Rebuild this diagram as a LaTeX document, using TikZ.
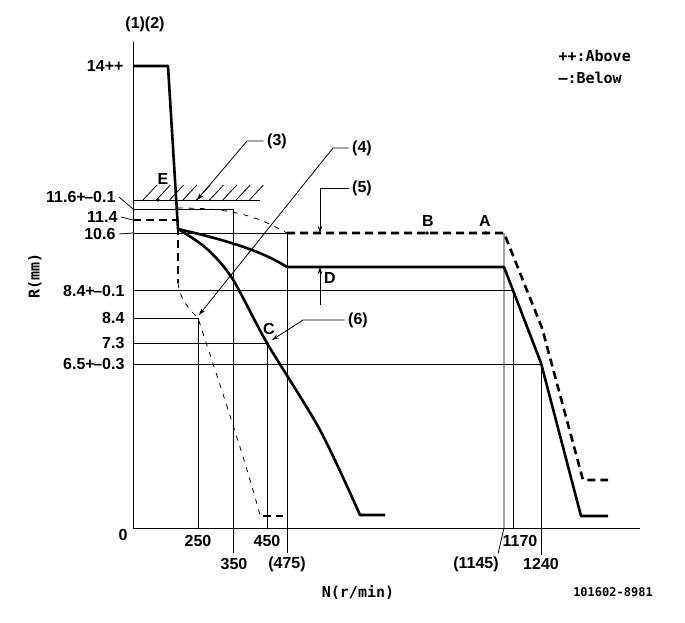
\documentclass[tikz,border=0pt]{standalone}
\usepackage{fontspec}
\setmainfont{Liberation Sans}
\newfontfamily\monofont{DejaVu Sans Mono}
\usetikzlibrary{arrows.meta}
\begin{document}
\begin{tikzpicture}[x=1pt,y=-1pt,line join=round,>={Stealth[length=7pt,width=4.5pt]},
    font=\bfseries\fontsize{16}{16}\selectfont]
	\tikzset{thinline/.style={line width=0.8pt},
		curve/.style={line width=2.6pt},
		curvedash/.style={line width=2.6pt,dash pattern=on 8pt off 5pt},
		thindash/.style={line width=0.8pt,dash pattern=on 5pt off 6pt},
		pt/.style={circle,fill,inner sep=1.4pt},
		title/.style={font=\monofont\bfseries\fontsize{15}{15}\selectfont}}
	\useasboundingbox (0,0) rectangle (685,623);
	% axes
	\coordinate (o) at (133,528);
	\draw[thinline] (133,42) -- (o) -- (640,528);
	\node (t12) at (145,24) {(1)(2)};
	\node[title,rotate=90] (tR) at (35,276) {R(mm)};
	\node[title] (tN) at (358,592) {N(r/min)};
	\node[font=\monofont\bfseries\fontsize{12}{12}\selectfont] (code) at (613,592) {101602-8981};
	\node[title,anchor=west] (lgA) at (555,56) {++:Above};
	\node[title,anchor=west] (lgB) at (555,78) {—:Below};
	% y labels
	\node[anchor=east] (y14) at (127,66) {14++};
	\node[anchor=east] (y116) at (119,197) {11.6+\kern-1.5pt--0.1};
	\node[anchor=east] (y114) at (121,217) {11.4};
	\node[anchor=east] (y106) at (119,234) {10.6};
	\node[anchor=east] (y84t) at (128,291) {8.4+\kern-1.5pt--0.1};
	\node[anchor=east] (y84) at (128,318) {8.4};
	\node[anchor=east] (y73) at (128,343) {7.3};
	\node[anchor=east] (y65) at (128,364) {6.5+\kern-1.5pt--0.3};
	\node (y0) at (123,535) {0};
	\coordinate (a116) at (133,209);
	\coordinate (a114) at (133,220);
	\coordinate (a106) at (133,233);
	\draw[thinline] (y116.east) -- (a116);
	\draw[thinline] (y114.east) -- (a114);
	\draw[thinline] (y106.east) -- (a106);
	% x labels
	\node (x250) at (198,541) {250};
	\node (x350) at (234,564) {350};
	\node (x450) at (267,541) {450};
	\node (x475) at (287,564) {(475)};
	\node (x1145) at (476,564) {(1145)};
	\node (x1170) at (520,541) {1170};
	\node (x1240) at (541,564) {1240};
	% guide lines
	\draw[thinline] (133,200) -- (260,200);
	\foreach \i in {0,...,8}
	\draw[thinline] (143+13.3*\i,200) -- ++(14,-15);
	\draw[thinline] (a116) -- (233,209) -- (233,553);
	\draw[thinline] (a106) -- (287,233) -- (287,553);
	\draw[thinline] (133,290) -- (513,290) -- (513,528);
	\draw[thinline] (133,318) -- (198,318) -- (198,528);
	\draw[thinline] (133,343) -- (267,343) -- (267,528);
	\draw[thinline] (133,364) -- (541,364) -- (541,555);
	\draw[thinline] (504,233) -- (504,528) -- ([xshift=-4pt]x1145.north east);
	% characteristic lines
	\draw[curve] (133,66) -- (168,66) -- (178,229) .. controls (225,240) and (260,250) .. (287,267)
		-- (504,267) -- (541,363) -- (581,516) -- (608,516);
	\draw[curve] plot[smooth] coordinates {(178,229) (206,248) (232,278) (267,343) (320,430) (360,515)}
		-- (385,515);
	\draw[curvedash] (a114) -- (178,220) -- (178,283);
	\draw[thindash] (178,283) .. controls (180,300) and (190,310) .. (198,318)
		.. controls (225,400) and (245,460) .. (260,515);
	\draw[curvedash] (263,516) -- (283,516);
	\draw[thindash] (178,208) .. controls (230,208) and (255,215) .. (287,233);
	\draw[curvedash] (287,233) -- (504,233) -- (542,328) -- (583,480) -- (608,480);
	% points
	\node[pt] (pE) at (158,200) {};
	\node (nE) at (163,179) {E};
	\node[pt] (pB) at (427,233) {};
	\node (nB) at (428,221) {B};
	\node[pt] (pA) at (486,233) {};
	\node (nA) at (485,221) {A};
	\node[pt] (pC) at (267,343) {};
	\node (nC) at (269,329) {C};
	\coordinate (p3) at (197,200);
	\coordinate (p4) at (199,315);
	\coordinate (p5) at (320,233);
	\coordinate (pD) at (320,267);
	\coordinate (qD) at (320,305);
	\coordinate (p6) at (272,340);
	\node (n3) at (277,141) {(3)};
	\node (n4) at (362,148) {(4)};
	\node (n5) at (362,188) {(5)};
	\node (n6) at (358,320) {(6)};
	\node (nD) at (330,278) {D};
	\draw[thinline,->] (n3.west) -- (247,141) -- (p3);
	\draw[thinline,->] (n4.west) -- (333,148) -- (p4);
	\draw[thinline,->] (n5.west) -- (320,188) -- (p5);
	\draw[thinline,->] (qD) -- (pD);
	\draw[thinline,->] (n6.west) -- (303,320) -- (p6);
\end{tikzpicture}
\end{document}
